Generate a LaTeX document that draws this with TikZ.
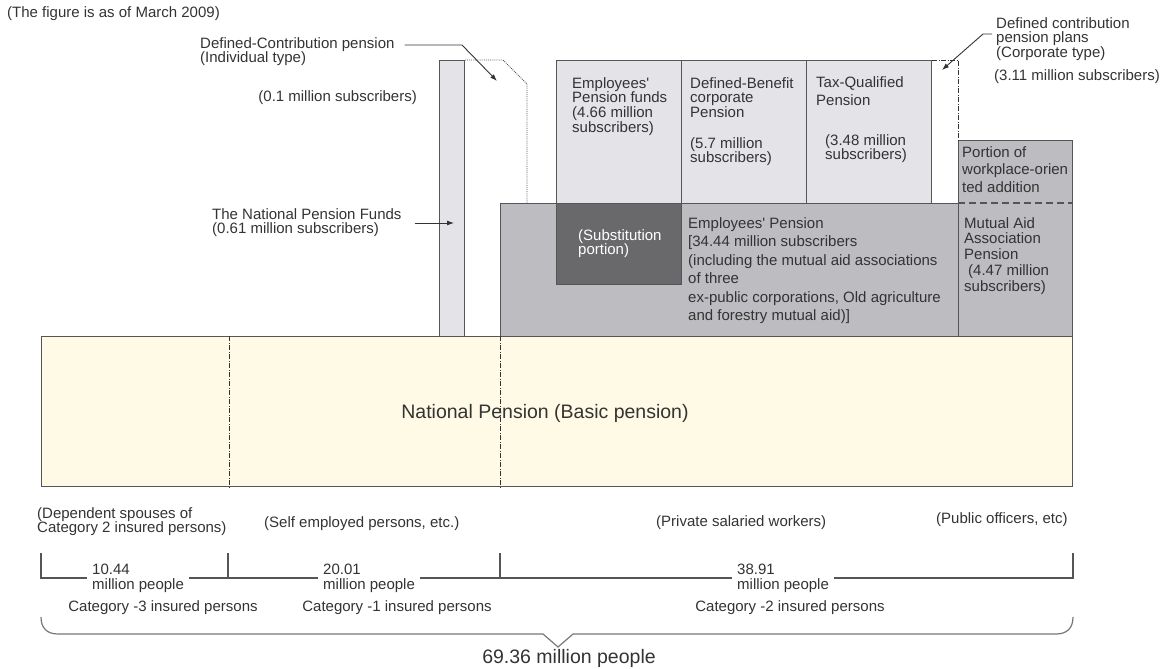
\documentclass[tikz,border=0pt]{standalone}
\usepackage{fontspec}
\setmainfont{Liberation Sans}
\usetikzlibrary{arrows.meta}
\usetikzlibrary{positioning}
\usetikzlibrary{calc}
\definecolor{ink}{HTML}{333333}
\definecolor{edge}{HTML}{555555}
\definecolor{cream}{HTML}{FFFAE6}
\definecolor{lightgrey}{HTML}{E4E4E8}
\definecolor{midgrey}{HTML}{BDBDC1}
\definecolor{darkgrey}{HTML}{69696C}
\newcommand{\txt}{\fontsize{15}{14.8}\selectfont}
\newcommand{\bigtxt}{\fontsize{19.5}{22}\selectfont}

\begin{document}
\begin{tikzpicture}[x=1pt,y=-1pt,
    every node/.style={inner sep=0pt,text=ink,font=\txt},
    tier/.style={draw=edge,line width=1.2pt,anchor=north west},
    lbl/.style={anchor=north west,align=left},
    lead/.style={draw=ink,line width=0.9pt},
    tip/.style={-{Latex[length=7pt,width=5pt]}},
    bracket/.style={draw=edge,line width=1.1pt},
    count/.style={anchor=north west,align=left,fill=white,inner xsep=5pt,inner ysep=1pt}]
\useasboundingbox (0,0) rectangle (1165,669);

% second tier: supplementary schemes
\node[tier,fill=lightgrey,minimum width=25pt,minimum height=276pt] (dcind) at (439,60) {};
\node[tier,fill=lightgrey,minimum width=125pt,minimum height=143pt] (efund) at (556,60) {};
\node[tier,fill=lightgrey,minimum width=125pt,minimum height=143pt] (dbcorp) at (681,60) {};
\node[tier,fill=lightgrey,minimum width=125pt,minimum height=143pt] (taxq) at (806,60) {};
\node[tier,fill=midgrey,minimum width=458pt,minimum height=133pt] (emp) at (500,203) {};
\node[tier,fill=darkgrey,minimum width=125pt,minimum height=81pt] (subst) at (556,203) {};
\node[tier,fill=midgrey,minimum width=114pt,minimum height=196pt] (mutual) at (958,140) {};
\draw[edge,line width=1.2pt,dashed,dash pattern=on 7pt off 4pt] (mutual.west |- emp.north) -- (mutual.east |- emp.north);

% first tier: basic pension
\node[tier,fill=cream,minimum width=1031pt,minimum height=150pt] (basic) at (41,336) {};
\draw[ink,line width=0.6pt,dash pattern=on 5pt off 1.5pt on 1pt off 1.5pt] (229,0 |- basic.north) -- (229,0 |- basic.south);
\draw[ink,line width=0.6pt,dash pattern=on 5pt off 1.5pt on 1pt off 1.5pt] (500,0 |- basic.north) -- (500,0 |- basic.south);
\node[font=\bigtxt] (natl) at (545,413) {National Pension (Basic pension)};

% outlines of the defined contribution plans
\coordinate (dotA) at (503,60);
\coordinate (dotB) at (527,84);
\draw[edge,line width=0.9pt,densely dotted] (dcind.north east) -- (dotA) -- (dotB) -- (dotB |- emp.north);
\coordinate (dashA) at (958,60);
\draw[ink,line width=0.8pt,dash pattern=on 5pt off 1.5pt on 1pt off 1.5pt] (taxq.north east) -- (dashA) -- (mutual.north west);

% labels
\node[lbl] (note) at (7,6) {(The figure is as of March 2009)};
\node[lbl] (dcilbl) at (200,37) {Defined-Contribution pension\\(Individual type)};
\node[anchor=north east] (dcisub) at (417,90) {(0.1 million subscribers)};
\coordinate (dcibend) at (462,45);
\coordinate (dcitip) at (497,81);
\draw[lead,tip] ([xshift=10pt]dcilbl.east |- dcibend) -- (dcibend) -- (dcitip);

\node[lbl] (npflbl) at (212,208) {The National Pension Funds\\(0.61 million subscribers)};
\coordinate (npftip) at (454,223);
\draw[lead,tip] ([xshift=13pt]npflbl.east |- npftip) -- (npftip);

\node[lbl] (dcclbl) at (996,17) {Defined contribution\\pension plans\\(Corporate type)};
\node[lbl] (dccsub) at (994,69) {(3.11 million subscribers)};
\coordinate (dccbend) at (983,34);
\coordinate (dcctip) at (942,70);
\draw[lead,tip] ([xshift=-4pt]dcclbl.west |- dccbend) -- (dccbend) -- (dcctip);

\node[lbl] (efundtxt) at (572,77) {Employees\textquotesingle\\Pension funds\\(4.66 million\\subscribers)};
\node[lbl] (dbtxt) at (690,77) {Defined-Benefit\\corporate\\Pension};
\node[lbl] (dbsub) at (690,137) {(5.7 million\\subscribers)};
\node[lbl] (tqtxt) at (816,76) {Tax-Qualified\\[4pt]Pension};
\node[lbl] (tqsub) at (825,134) {(3.48 million\\subscribers)};
\node[lbl,font=\fontsize{15}{17.5}\selectfont] (porttxt) at (962,146) {Portion of\\workplace-orien\\ted addition};
\node[lbl,text=white] (substtxt) at (578,229) {(Substitution\\portion)};
\node[lbl,font=\fontsize{15}{18.5}\selectfont] (emptxt) at (688,217) {Employees\textquotesingle{} Pension\\{[}34.44 million subscribers\\(including the mutual aid associations\\of three\\ex-public corporations, Old agriculture\\and forestry mutual aid){]}};
\node[lbl,font=\fontsize{15}{15.8}\selectfont] (muttxt) at (964,217) {Mutual Aid\\Association\\Pension\\\hspace*{4pt}(4.47 million\\subscribers)};

% insured persons
\node[lbl] (dep) at (37,507) {(Dependent spouses of\\Category 2 insured persons)};
\node[lbl] (self) at (264,516) {(Self employed persons, etc.)};
\node[lbl] (priv) at (656,515) {(Private salaried workers)};
\node[lbl] (pub) at (936,512) {(Public officers, etc)};

\draw[bracket] (41,553) -- (41,578) -- (1073,578) -- (1073,553);
\draw[bracket] (228,553) -- (228,578);
\draw[bracket] (500,553) -- (500,578);
\node[count] (cnt3) at (87,563) {10.44\\million people};
\node[count] (cnt1) at (318,563) {20.01\\million people};
\node[count] (cnt2) at (732,563) {38.91\\million people};

\node (cat3) at (163,608) {Category -3 insured persons};
\node (cat1) at (397,608) {Category -1 insured persons};
\node (cat2) at (790,608) {Category -2 insured persons};

\draw[draw=edge!80,line width=1.2pt] (41,617) .. controls (41,628) and (47,634) .. (58,634) -- (543,634) -- (558,647) -- (573,634) -- (1056,634) .. controls (1067,634) and (1073,628) .. (1073,617);
\node[font=\bigtxt] (total) at (569,658) {69.36 million people};
\end{tikzpicture}
\end{document}
